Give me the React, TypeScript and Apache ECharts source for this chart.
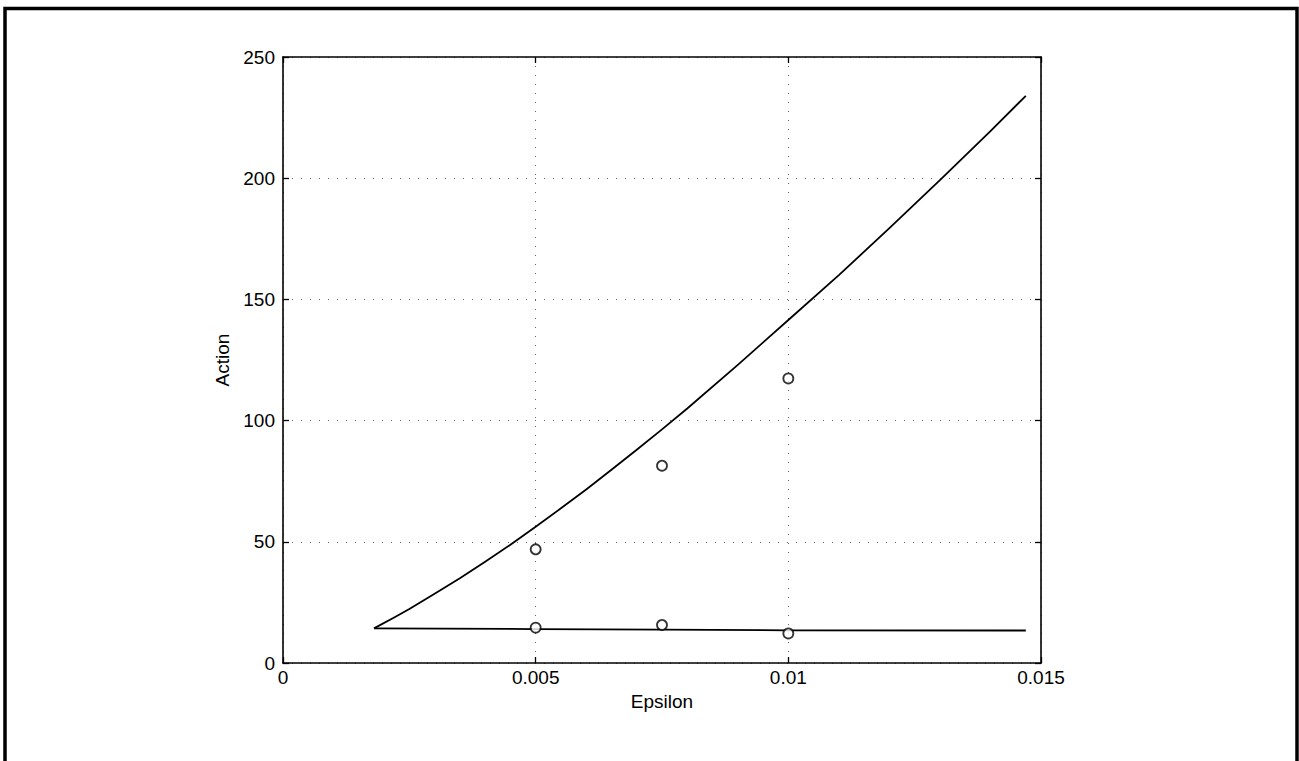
import React, { useEffect, useRef } from "react";
import * as echarts from "echarts";

// Upper curve: action bound as a function of epsilon
const upperEps = [0.0018, 0.0022, 0.0025, 0.003, 0.0035, 0.004, 0.0045, 0.005, 0.0055, 0.006, 0.0065, 0.007, 0.0075, 0.008, 0.009, 0.01, 0.011, 0.012, 0.013, 0.014, 0.0147];
const upperAction = [14.3, 18.8, 22.3, 28.6, 35.0, 41.8, 48.8, 56.2, 63.8, 71.6, 79.7, 88.0, 96.4, 105.0, 123.0, 141.5, 160.0, 179.4, 199.2, 219.4, 234.0];

// Lower (nearly flat) curve
const lowerEps = [0.0018, 0.005, 0.0075, 0.01, 0.0147];
const lowerAction = [14.3, 14.0, 13.8, 13.5, 13.4];

// Measured points
const pointEps = [0.005, 0.005, 0.0075, 0.0075, 0.01, 0.01];
const pointAction = [46.9, 14.6, 81.4, 15.7, 117.4, 12.2];

// Axis ranges / ticks
const xTicks = [0, 0.005, 0.01, 0.015];
const yTicks = [0, 50, 100, 150, 200, 250];

const FONT = "'Liberation Sans', Arial, Helvetica, sans-serif";

export default function App() {
  const ref = useRef<HTMLDivElement>(null);

  useEffect(() => {
    if (!ref.current) return;
    const chart = echarts.init(ref.current, undefined, { renderer: "svg" });

    const zip = (xs: number[], ys: number[]) => xs.map((x, i) => [x, ys[i]]);
    const xMin = xTicks[0];
    const xMax = xTicks[xTicks.length - 1];
    const xInt = xTicks[1] - xTicks[0];
    const yMin = yTicks[0];
    const yMax = yTicks[yTicks.length - 1];
    const yInt = yTicks[1] - yTicks[0];

    const axisLine = { show: true, onZero: false, lineStyle: { color: "#000", width: 1.6 } };
    const axisTick = { show: true, inside: true, length: 6, lineStyle: { color: "#000", width: 1.3 } };
    const gridDots = { show: true, lineStyle: { color: "#666", width: 1, type: [1, 8] as any } };

    chart.setOption({
      animation: false,
      backgroundColor: "#fff",
      grid: { left: 283, top: 57, right: 258, bottom: 98, containLabel: false },
      graphic: [
        {
          type: "rect",
          shape: { x: 5, y: 8.5, width: 1292, height: 800 },
          style: { fill: "none", stroke: "#000", lineWidth: 3.5 },
          silent: true,
        },
      ],
      xAxis: [
        {
          type: "value",
          position: "bottom",
          min: xMin,
          max: xMax,
          interval: xInt,
          name: "Epsilon",
          nameLocation: "middle",
          nameGap: 29,
          nameTextStyle: { color: "#000", fontFamily: FONT, fontSize: 19 },
          axisLine,
          axisTick,
          splitLine: gridDots,
          axisLabel: { color: "#000", fontFamily: FONT, fontSize: 19, margin: 5 },
        },
        {
          type: "value",
          position: "top",
          min: xMin,
          max: xMax,
          interval: xInt,
          axisLine,
          axisTick,
          splitLine: { show: false },
          axisLabel: { show: false },
        },
      ],
      yAxis: [
        {
          type: "value",
          position: "left",
          min: yMin,
          max: yMax,
          interval: yInt,
          name: "Action",
          nameLocation: "middle",
          nameGap: 45,
          nameRotate: 90,
          nameTextStyle: { color: "#000", fontFamily: FONT, fontSize: 19 },
          axisLine,
          axisTick,
          splitLine: gridDots,
          axisLabel: { color: "#000", fontFamily: FONT, fontSize: 19, margin: 8 },
        },
        {
          type: "value",
          position: "right",
          min: yMin,
          max: yMax,
          interval: yInt,
          axisLine,
          axisTick,
          splitLine: { show: false },
          axisLabel: { show: false },
        },
      ],
      series: [
        {
          type: "line",
          data: zip(upperEps, upperAction),
          smooth: false,
          showSymbol: false,
          symbol: "none",
          lineStyle: { color: "#000", width: 1.8, join: "round" },
        },
        {
          type: "line",
          data: zip(lowerEps, lowerAction),
          showSymbol: false,
          symbol: "none",
          lineStyle: { color: "#000", width: 1.8 },
        },
        {
          type: "scatter",
          data: zip(pointEps, pointAction),
          symbol: "circle",
          symbolSize: 10,
          itemStyle: { color: "#fff", borderColor: "#000", borderWidth: 1.8 },
          z: 5,
        },
      ],
    });

    return () => chart.dispose();
  }, []);

  return (
    <div
      ref={ref}
      style={{ position: "absolute", left: 0, top: 0, width: 1299, height: 761 }}
    />
  );
}
